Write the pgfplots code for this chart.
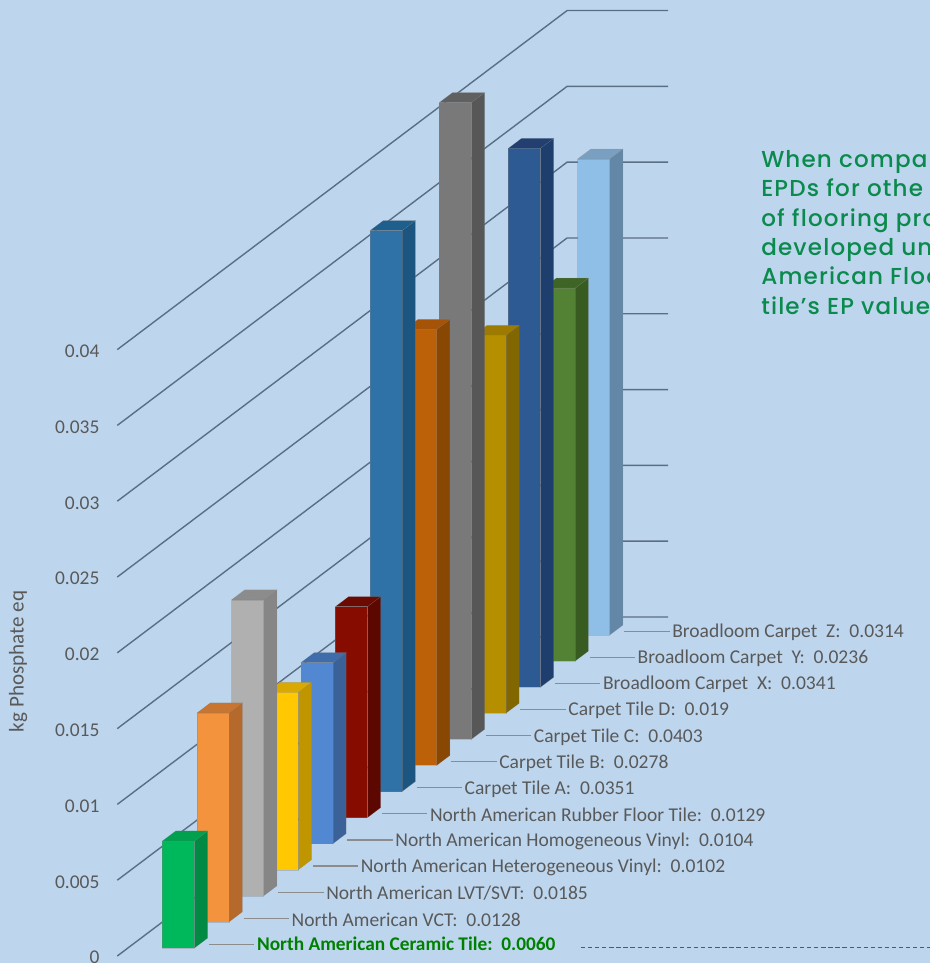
\documentclass[border=0pt]{standalone}
\usepackage{fontspec}
\setmainfont{Carlito}
\newfontfamily\notefont[LetterSpace=5]{Poppins Medium}
\usepackage{pgfplots}
\pgfplotsset{compat=1.18}

\definecolor{bg}{HTML}{BDD6EE}
\definecolor{gridc}{HTML}{5B6F84}
\definecolor{labelc}{HTML}{595959}
\definecolor{leadc}{HTML}{8C8C8C}
\definecolor{cerc}{HTML}{008000}
\definecolor{dashc}{HTML}{1A7A50}
\definecolor{notec}{HTML}{0B8A4D}
% front, side, top of each bar
\definecolor{fCer}{HTML}{00B85C}\definecolor{sCer}{HTML}{008A43}\definecolor{tCer}{HTML}{00A04F}
\definecolor{fVct}{HTML}{F4933E}\definecolor{sVct}{HTML}{B5692A}\definecolor{tVct}{HTML}{C87530}
\definecolor{fLvt}{HTML}{B0B0B0}\definecolor{sLvt}{HTML}{868686}\definecolor{tLvt}{HTML}{8C8C8C}
\definecolor{fHet}{HTML}{FFC800}\definecolor{sHet}{HTML}{BF9600}\definecolor{tHet}{HTML}{D9A900}
\definecolor{fHom}{HTML}{5288D2}\definecolor{sHom}{HTML}{3A6298}\definecolor{tHom}{HTML}{3F6DAB}
\definecolor{fRub}{HTML}{870C00}\definecolor{sRub}{HTML}{5C0800}\definecolor{tRub}{HTML}{6B0A00}
\definecolor{fA}{HTML}{2E72A8}\definecolor{sA}{HTML}{1C557F}\definecolor{tA}{HTML}{1F5F8E}
\definecolor{fB}{HTML}{BC6108}\definecolor{sB}{HTML}{894704}\definecolor{tB}{HTML}{A55407}
\definecolor{fC}{HTML}{797979}\definecolor{sC}{HTML}{575757}\definecolor{tC}{HTML}{606060}
\definecolor{fD}{HTML}{B58F00}\definecolor{sD}{HTML}{826700}\definecolor{tD}{HTML}{9C7B00}
\definecolor{fX}{HTML}{2E5A94}\definecolor{sX}{HTML}{1E3E6E}\definecolor{tX}{HTML}{223F70}
\definecolor{fY}{HTML}{548235}\definecolor{sY}{HTML}{375B20}\definecolor{tY}{HTML}{3F6526}
\definecolor{fZ}{HTML}{8FBFE6}\definecolor{sZ}{HTML}{6387A7}\definecolor{tZ}{HTML}{79A0C0}

\pgfplotsset{barface/.style={fill=#1,draw=gray,draw opacity=0.35,line width=0.3pt}}

% index, height, colour stem
\newcommand\onebar[3]{%
  \pgfmathsetmacro\ta{#1+0.307}%
  \pgfmathsetmacro\tb{#1+0.69}%
  \addplot3[barface=s#3] coordinates {(0.659,\ta,0) (0.659,\tb,0) (0.659,\tb,#2) (0.659,\ta,#2)} -- cycle;
  \addplot3[barface=t#3] coordinates {(0.342,\ta,#2) (0.659,\ta,#2) (0.659,\tb,#2) (0.342,\tb,#2)} -- cycle;
  \addplot3[barface=f#3] coordinates {(0.342,\ta,0) (0.659,\ta,0) (0.659,\ta,#2) (0.342,\ta,#2)} -- cycle;
}
% index, text
\newcommand\leader[2]{%
  \pgfmathsetmacro\tl{#1+0.45}%
  \addplot3[leadc,line width=0.9pt] coordinates {(0.7536,\tl,0) (1.204,\tl,0)}
    node[pos=1,anchor=west,inner sep=0pt,xshift=1.5pt,yshift=-0.9pt,text=labelc,font=\fontsize{14.65}{14.65}\selectfont] {#2};
}

\begin{document}
\begin{tikzpicture}[x=0.75pt,y=0.75pt]
\path[use as bounding box,fill=bg] (0,0) rectangle (930,963);

\begin{axis}[
  at={(87.975pt,5.25pt)},anchor=origin,
  x={(75.75pt,0pt)},y={(25.95pt,19.56pt)},z={(0pt,11370pt)},
  xmin=0,xmax=1,ymin=0,ymax=13,zmin=0,zmax=0.04,
  axis lines=left,axis line style={draw=none},
  xtick=\empty,ytick=\empty,
  ztick={0,0.005,0.01,0.015,0.02,0.025,0.03,0.035,0.04},
  major tick length=0pt,
  scaled z ticks=false,
  zticklabel style={/pgf/number format/fixed,/pgf/number format/precision=3,
    /pgf/number format/assume math mode=true,
    anchor=east,inner sep=0pt,xshift=-13.2pt,yshift=-1.3pt,text=labelc,font=\fontsize{14.6}{14.6}\selectfont},
  clip=false,
]
\pgfplotsinvokeforeach{0,0.005,0.01,0.015,0.02,0.025,0.03,0.035,0.04}{
  \addplot3[gridc,line width=1.05pt] coordinates {(0,0,#1) (0,13,#1) (1,13,#1)};
}

\onebar{12}{0.0314}{Z}
\onebar{11}{0.0246}{Y}
\onebar{10}{0.03555}{X}
\onebar{9}{0.02493}{D}
\onebar{8}{0.0420}{C}
\onebar{7}{0.02876}{B}
\onebar{6}{0.0370}{A}
\onebar{5}{0.01392}{Rub}
\onebar{4}{0.01194}{Hom}
\onebar{3}{0.0117}{Het}
\onebar{2}{0.01953}{Lvt}
\onebar{1}{0.01379}{Vct}
\onebar{0}{0.00706}{Cer}

\leader{12}{Broadloom Carpet\ \ Z:\ \ 0.0314}
\leader{11}{Broadloom Carpet\ \ Y:\ \ 0.0236}
\leader{10}{Broadloom Carpet\ \ X:\ \ 0.0341}
\leader{9}{Carpet Tile D:\ \ 0.019}
\leader{8}{Carpet Tile C:\ \ 0.0403}
\leader{7}{Carpet Tile B:\ \ 0.0278}
\leader{6}{Carpet Tile A:\ \ 0.0351}
\leader{5}{North American Rubber Floor Tile:\ \ 0.0129}
\leader{4}{North American Homogeneous Vinyl:\ \ 0.0104}
\leader{3}{North American Heterogeneous Vinyl:\ \ 0.0102}
\leader{2}{North American LVT/SVT:\ \ 0.0185}
\leader{1}{North American VCT:\ \ 0.0128}
\addplot3[leadc,line width=0.9pt] coordinates {(0.7536,0.45,0) (1.204,0.45,0)}
  node[pos=1,anchor=west,inner sep=0pt,xshift=1.5pt,text=cerc,font=\fontsize{14.5}{14.5}\selectfont\bfseries] {North American Ceramic Tile:\ \ 0.0060};
\end{axis}

\draw[dashc,line width=0.8pt,dash pattern=on 3.2pt off 2.1pt] (581,15.5) -- (930,15.5);
\node[rotate=90,text=labelc,font=\fontsize{15.8}{15.8}\selectfont] at (18,301.5) {kg Phosphate eq};
\begin{scope}[every node/.style={anchor=base west,inner sep=0pt,text=notec,font=\notefont\fontsize{17.3}{17.3}\selectfont}]
\node at (761,795.3) {When compar};
\node at (761,766.3) {EPDs for othe};
\node at (761,736.3) {of flooring pro};
\node at (761,707) {developed und};
\node at (761,678) {American Floo};
\node at (761,648) {tile’s EP value};
\end{scope}
\end{tikzpicture}
\end{document}
